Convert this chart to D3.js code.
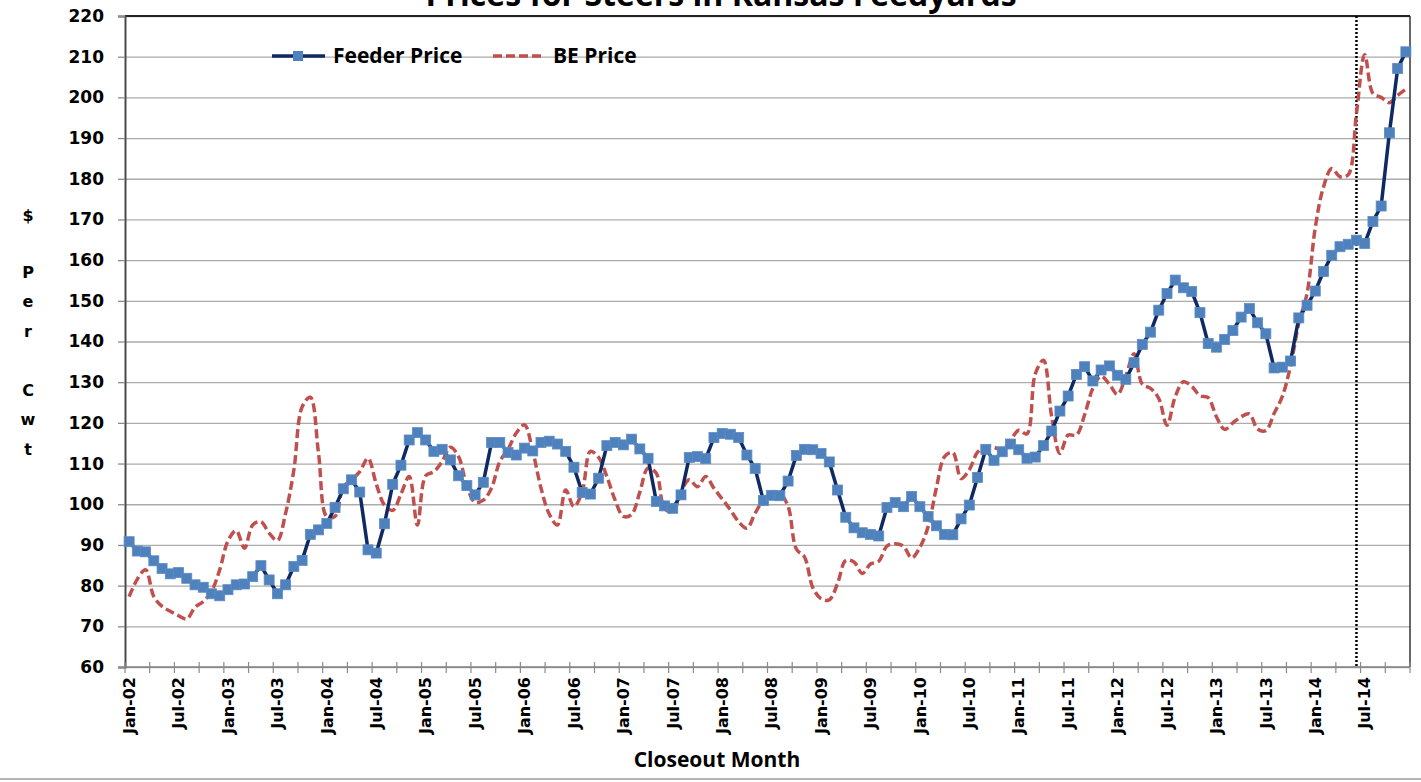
<!DOCTYPE html>
<html>
<head>
<meta charset="utf-8">
<script src="https://cdn.jsdelivr.net/npm/d3@7"></script>
<style>
  body { margin: 0; background: #fff; }
  svg { display: block; }
</style>
</head>
<body>
<svg id="chart"></svg>
<script>
// monthly closeout series, Jan-02 .. Dec-14
var feederPrice = [
  90.8, 88.5, 88.3, 86.1, 84.2, 82.9, 83.2, 81.8, 80.2, 79.6, 78.0, 77.5,
  79.0, 80.2, 80.4, 82.2, 84.9, 81.4, 78.0, 80.2, 84.7, 86.2, 92.6, 93.7,
  95.3, 99.2, 103.8, 106.0, 103.0, 88.8, 88.0, 95.2, 104.9, 109.6, 115.8, 117.6,
  115.8, 113.0, 113.5, 110.9, 107.0, 104.6, 102.3, 105.4, 115.2, 115.2, 112.7, 112.1,
  113.8, 113.1, 115.2, 115.5, 114.8, 113.0, 109.1, 102.9, 102.5, 106.4, 114.4, 115.2,
  114.6, 116.0, 113.6, 111.3, 100.7, 99.6, 99.0, 102.3, 111.5, 111.7, 111.2, 116.4,
  117.4, 117.2, 116.4, 112.1, 108.8, 100.9, 102.2, 102.1, 105.7, 112.0, 113.5, 113.4,
  112.5, 110.4, 103.5, 96.8, 94.2, 93.0, 92.6, 92.2, 99.2, 100.4, 99.4, 101.9,
  99.4, 97.0, 94.7, 92.6, 92.5, 96.4, 99.8, 106.6, 113.5, 110.8, 112.9, 114.8,
  113.4, 111.3, 111.6, 114.4, 118.0, 122.9, 126.6, 131.9, 133.8, 130.3, 133.0, 134.0,
  131.7, 130.7, 134.8, 139.3, 142.3, 147.7, 151.8, 155.1, 153.2, 152.3, 147.1, 139.5,
  138.6, 140.5, 142.7, 146.0, 148.1, 144.6, 141.9, 133.5, 133.7, 135.2, 145.8, 148.9,
  152.4, 157.2, 161.2, 163.3, 163.9, 164.9, 164.1, 169.5, 173.3, 191.3, 207.1, 211.2
]
var bePrice = [
  77.3, 81.6, 83.9, 77.3, 74.9, 73.7, 72.6, 71.8, 74.7, 76.1, 78.6, 83.9,
  91.0, 93.5, 89.2, 94.9, 95.7, 92.9, 91.1, 97.8, 108.4, 123.9, 126.3, 112.4,
  96.9, 97.0, 104.3, 106.0, 108.0, 111.3, 105.0, 99.8, 98.5, 102.5, 106.8, 94.9,
  107.0, 108.0, 110.5, 114.0, 111.7, 104.5, 100.5, 101.0, 104.0, 110.5, 113.5, 117.5,
  119.5, 113.0, 104.0, 97.6, 94.9, 103.5, 99.4, 103.0, 113.0, 111.5, 106.8, 101.0,
  97.0, 97.5, 103.0, 108.9, 107.6, 99.0, 98.2, 103.1, 106.0, 104.3, 106.8, 103.9,
  101.3, 98.6, 95.7, 94.1, 97.8, 101.1, 102.8, 102.7, 99.5, 89.0, 87.0, 79.5,
  76.8, 76.5, 80.5, 86.2, 85.8, 83.0, 85.3, 86.0, 89.7, 90.3, 89.7, 86.8,
  89.4, 94.5, 104.0, 111.7, 112.7, 106.3, 108.5, 112.8, 114.2, 114.0, 113.3, 115.7,
  118.2, 117.3, 132.0, 135.4, 121.5, 112.5, 117.0, 117.0, 122.0, 128.5, 131.5, 129.5,
  127.0, 131.5, 137.0, 129.5, 128.5, 126.0, 119.4, 126.5, 130.1, 129.0, 126.7, 126.2,
  121.5, 118.4, 120.0, 121.5, 122.2, 118.5, 118.1, 122.3, 126.5, 134.0, 144.5, 151.8,
  168.0, 178.0, 182.5, 180.5, 181.0, 196.0, 210.5, 201.0, 200.0, 198.7, 200.5, 202.0
]
var xTickLabels = ["Jan-02","Jul-02","Jan-03","Jul-03","Jan-04","Jul-04","Jan-05","Jul-05",
  "Jan-06","Jul-06","Jan-07","Jul-07","Jan-08","Jul-08","Jan-09","Jul-09","Jan-10","Jul-10",
  "Jan-11","Jul-11","Jan-12","Jul-12","Jan-13","Jul-13","Jan-14","Jul-14"]
var yTicks = [60,70,80,90,100,110,120,130,140,150,160,170,180,190,200,210,220]
var markerMonth = "Jun-14"
var yLabelLetters = ["$","P","e","r","","C","w","t"]

var fmt = d3.timeFormat("%b-%y")
var months = d3.timeMonths(new Date(2002,0,1), new Date(2015,0,1)).map(fmt)

var screen = {width:1421, height:782}
var plot = {left:125, right:1410, top:16, bottom:667}
var calibri = "'Open Sans', Lato, sans-serif"
var verdana = "'DejaVu Sans', Verdana, sans-serif"

var svg = d3.select("#chart")
  .attr("width", screen.width)
  .attr("height", screen.height)

svg.append("rect").attr("width", screen.width).attr("height", screen.height).attr("fill", "#fff")

var x = d3.scaleBand().domain(months).range([plot.left, plot.right]).padding(0)
var xEdge = d3.scaleLinear().domain([0, months.length]).range([plot.left, plot.right])
var y = d3.scaleLinear().domain([60, 220]).range([plot.bottom, plot.top])
var cx = function(m) { return x(m) + x.bandwidth()/2 }

// title (its top half falls outside the picture, as in the source image)
svg.append("text")
  .attr("x", 721).attr("y", 6)
  .attr("text-anchor", "middle")
  .style("font-family", calibri).style("font-weight", "bold").style("font-size", "32px")
  .text("Prices for Steers in Kansas Feedyards")

// gridlines
svg.append("g")
  .attr("transform", "translate(" + plot.left + ",0)")
  .call(d3.axisLeft(y).tickValues(yTicks).tickSize(-(plot.right - plot.left)).tickFormat(""))
  .call(function(g) {
    g.select(".domain").remove()
    g.selectAll("line").attr("stroke", "#ababab").attr("stroke-width", 1.3)
  })

// frame top + right
svg.append("line").attr("x1", plot.left).attr("x2", plot.right)
  .attr("y1", plot.top).attr("y2", plot.top).attr("stroke", "#222").attr("stroke-width", 2)
svg.append("line").attr("x1", plot.right).attr("x2", plot.right)
  .attr("y1", plot.top).attr("y2", plot.bottom).attr("stroke", "#333").attr("stroke-width", 1.5)

// y axis
svg.append("g")
  .attr("transform", "translate(" + plot.left + ",0)")
  .call(d3.axisLeft(y).tickValues(yTicks).tickSize(7).tickPadding(14))
  .call(function(g) {
    g.select(".domain").attr("stroke", "#4a4a4a").attr("stroke-width", 2)
    g.selectAll("line").attr("stroke", "#8a8a8a").attr("stroke-width", 1.3)
    g.selectAll("text").attr("fill", "#000")
      .style("font-family", verdana).style("font-weight", "bold").style("font-size", "17px")
  })

// x axis line + tick marks every 3 months (crossing the axis)
var xg = svg.append("g")
xg.append("line").attr("x1", plot.left).attr("x2", plot.right)
  .attr("y1", plot.bottom).attr("y2", plot.bottom).attr("stroke", "#808080").attr("stroke-width", 1.5)
xg.selectAll(".xtick")
  .data(d3.range(0, months.length + 1, 3))
  .enter().append("line").attr("class", "xtick")
  .attr("x1", function(d) { return xEdge(d) }).attr("x2", function(d) { return xEdge(d) })
  .attr("y1", plot.bottom - 5).attr("y2", plot.bottom + 6)
  .attr("stroke", "#8a8a8a").attr("stroke-width", 1.2)

svg.append("g")
  .attr("transform", "translate(0," + plot.bottom + ")")
  .call(d3.axisBottom(x).tickValues(xTickLabels).tickSize(0).tickPadding(0))
  .call(function(g) {
    g.select(".domain").remove()
    g.selectAll("text")
      .attr("transform", "rotate(-90)")
      .attr("x", -10).attr("y", 0).attr("dy", "0.36em")
      .attr("text-anchor", "end").attr("fill", "#000")
      .style("font-family", verdana).style("font-weight", "bold").style("font-size", "16px")
  })

// axis titles
svg.append("text")
  .attr("x", 717).attr("y", 767).attr("text-anchor", "middle")
  .style("font-family", calibri).style("font-weight", "bold").style("font-size", "21px")
  .text("Closeout Month")

svg.append("g").selectAll("text")
  .data(yLabelLetters)
  .enter().append("text")
  .attr("x", 28)
  .attr("y", function(d, i) { return 221 + i * 29.5 + (i > 0 ? 27 : 0) })
  .attr("text-anchor", "middle")
  .style("font-family", verdana).style("font-weight", "bold").style("font-size", "16px")
  .text(function(d) { return d })

// marker line for current month
svg.append("line")
  .attr("x1", cx(markerMonth)).attr("x2", cx(markerMonth))
  .attr("y1", plot.top).attr("y2", plot.bottom)
  .attr("stroke", "#000").attr("stroke-width", 2.5).attr("stroke-dasharray", "2,2")

// BE price, dashed red
var beLine = d3.line()
  .x(function(d, i) { return cx(months[i]) })
  .y(function(d) { return y(d) })
  .curve(d3.curveCatmullRom)
svg.append("path").datum(bePrice)
  .attr("d", beLine)
  .attr("fill", "none").attr("stroke", "#c0504d").attr("stroke-width", 3.5)
  .attr("stroke-dasharray", "9,4")

// feeder price, navy with squares
var feedLine = d3.line()
  .x(function(d, i) { return cx(months[i]) })
  .y(function(d) { return y(d) })
svg.append("path").datum(feederPrice)
  .attr("d", feedLine)
  .attr("fill", "none").attr("stroke", "#0f2a63").attr("stroke-width", 3.5)
svg.append("g").selectAll("rect")
  .data(feederPrice)
  .enter().append("rect")
  .attr("x", function(d, i) { return cx(months[i]) - 5 })
  .attr("y", function(d) { return y(d) - 5 })
  .attr("width", 10).attr("height", 10)
  .attr("fill", "#4f81bd").attr("stroke", "#5b8cc6").attr("stroke-width", 0.8)

// legend
var lg = svg.append("g").attr("transform", "translate(0,56)")
lg.append("line").attr("x1", 272).attr("x2", 325).attr("stroke", "#0f2a63").attr("stroke-width", 3.5)
lg.append("rect").attr("x", 293).attr("y", -5).attr("width", 10).attr("height", 10).attr("fill", "#4f81bd")
lg.append("text").attr("x", 333).attr("y", 7)
  .style("font-family", calibri).style("font-weight", "bold").style("font-size", "21px")
  .text("Feeder Price")
lg.append("line").attr("x1", 493).attr("x2", 545).attr("stroke", "#c0504d").attr("stroke-width", 3.5)
  .attr("stroke-dasharray", "9,4")
lg.append("text").attr("x", 553).attr("y", 7)
  .style("font-family", calibri).style("font-weight", "bold").style("font-size", "21px")
  .text("BE Price")

// bottom edge of the chart area
svg.append("line").attr("x1", 0).attr("x2", screen.width).attr("y1", 779).attr("y2", 779)
  .attr("stroke", "#9a9a9a").attr("stroke-width", 1.5)
</script>
</body>
</html>
